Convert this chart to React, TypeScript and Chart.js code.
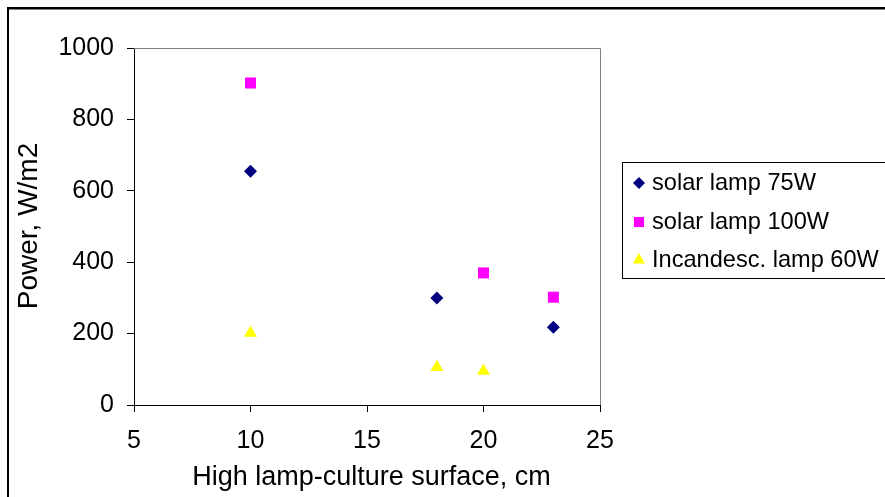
import React, { useEffect, useRef } from "react";
import { Chart, registerables } from "chart.js";
import { drawPoint } from "chart.js/helpers";

Chart.register(...registerables);

const seriesNames = ["solar lamp 75W", "solar lamp 100W", "Incandesc. lamp 60W"];
const seriesColors = ["#000080", "#FF00FF", "#FFFF00"];
const seriesStyles = ["rectRot", "rect", "triangle"];
const seriesRadius = [6.5, 7.8, 7.5];

const solar75X = [10, 18, 23];
const solar75Y = [655, 300, 218];
const solar100X = [10, 20, 23];
const solar100Y = [902, 370, 302];
const incand60X = [10, 18, 20];
const incand60Y = [202, 106, 95];

const xTitle = "High lamp-culture surface, cm";
const yTitle = "Power, W/m2";
const FONT = "'Liberation Sans', Arial, sans-serif";

const pts = (xs: number[], ys: number[]) => xs.map((x, i) => ({ x, y: ys[i] }));

const decorPlugin = {
  id: "decor",
  beforeDraw(chart: any) {
    const ctx = chart.ctx;
    ctx.save();
    ctx.fillStyle = "#ffffff";
    ctx.fillRect(0, 0, chart.width, chart.height);
    ctx.fillStyle = "#000000";
    ctx.fillRect(7, 7, chart.width - 7, 2);
    ctx.fillRect(7, 7, 2, chart.height - 7);
    ctx.fillStyle = "#808080";
    ctx.fillRect(9, 9, chart.width - 9, 1);
    ctx.restore();
  },
  afterDraw(chart: any) {
    const ctx = chart.ctx;
    const a = chart.chartArea;
    ctx.save();
    // plot area top/right border
    ctx.strokeStyle = "#808080";
    ctx.lineWidth = 1;
    ctx.beginPath();
    ctx.moveTo(a.left, a.top + 0.5);
    ctx.lineTo(a.right + 0.5, a.top + 0.5);
    ctx.lineTo(a.right + 0.5, a.bottom);
    ctx.stroke();

    // axis titles
    ctx.fillStyle = "#000000";
    ctx.font = `27px ${FONT}`;
    ctx.textAlign = "center";
    ctx.textBaseline = "alphabetic";
    ctx.fillText(xTitle, 371.5, 485);
    ctx.save();
    ctx.font = `28px ${FONT}`;
    ctx.translate(37, 226);
    ctx.rotate(-Math.PI / 2);
    ctx.fillText(yTitle, 0, 0);
    ctx.restore();

    // legend
    ctx.strokeStyle = "#000000";
    ctx.lineWidth = 1;
    ctx.strokeRect(622.5, 162.5, 300, 116);
    ctx.font = `23.6px ${FONT}`;
    ctx.textAlign = "left";
    ctx.textBaseline = "middle";
    const rowsY = [183, 222, 260];
    seriesNames.forEach((name, i) => {
      ctx.fillStyle = seriesColors[i];
      drawPoint(ctx, { pointStyle: seriesStyles[i], radius: seriesRadius[i] * 0.92, rotation: 0, borderWidth: 0 } as any, 639, rowsY[i]);
      ctx.fillStyle = "#000000";
      ctx.fillText(name, 652, rowsY[i] + 0.5);
    });
    ctx.restore();
  },
};

export default function App() {
  const ref = useRef<HTMLCanvasElement | null>(null);
  useEffect(() => {
    if (!ref.current) return;
    const datasets = [
      pts(solar75X, solar75Y),
      pts(solar100X, solar100Y),
      pts(incand60X, incand60Y),
    ].map((data, i) => ({
      label: seriesNames[i],
      data,
      pointStyle: seriesStyles[i],
      pointRadius: seriesRadius[i],
      pointHoverRadius: seriesRadius[i],
      backgroundColor: seriesColors[i],
      borderColor: seriesColors[i],
      pointBorderWidth: 0,
      borderWidth: 0,
      showLine: false,
    }));
    const tickFont = { family: FONT, size: 25 };
    const chart = new Chart(ref.current, {
      type: "scatter",
      data: { datasets: datasets as any },
      plugins: [decorPlugin],
      options: {
        responsive: false,
        animation: false,
        devicePixelRatio: 1,
        layout: { padding: { top: 48, right: 285, left: 0, bottom: 0 } },
        plugins: { legend: { display: false }, tooltip: { enabled: false } },
        scales: {
          x: {
            type: "linear",
            min: 5,
            max: 25,
            afterFit: (s: any) => { s.height = 92; },
            ticks: { stepSize: 5, color: "#000", font: tickFont, padding: 14, maxRotation: 0, callback: (v: any) => String(v) },
            grid: { drawOnChartArea: false, drawTicks: true, tickLength: 7, color: "#000" },
            border: { color: "#000", width: 1 },
          },
          y: {
            type: "linear",
            min: 0,
            max: 1000,
            afterFit: (s: any) => { s.width = 134; },
            ticks: { stepSize: 200, color: "#000", font: tickFont, padding: 13, callback: (v: any) => String(v) },
            grid: { drawOnChartArea: false, drawTicks: true, tickLength: 7, color: "#000" },
            border: { color: "#000", width: 1 },
          },
        },
      } as any,
    });
    return () => chart.destroy();
  }, []);
  return (
    <div style={{ position: "absolute", left: 0, top: 0, width: 885, height: 497 }}>
      <canvas ref={ref} width={885} height={497} style={{ width: 885, height: 497, display: "block" }} />
    </div>
  );
}
